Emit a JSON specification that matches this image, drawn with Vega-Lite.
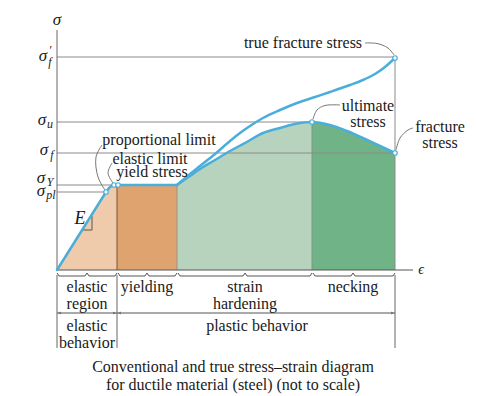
{
"$schema": "https://vega.github.io/schema/vega-lite/v6.json",
"width": 477, "height": 396,
"autosize": {"type": "fit", "contains": "padding"},
"padding": 0,
"background": "white",
"config": {"view": {"stroke": null}, "text": {"font": "Liberation Serif", "color": "#1a1a1a"}},
"datasets": {
"regions": [
{"r":"elastic","x":0,"y":0},{"r":"elastic","x":49,"y":78},{"r":"elastic","x":53,"y":83},{"r":"elastic","x":57,"y":85},{"r":"elastic","x":60,"y":85},
{"r":"yielding","x":60,"y":85},{"r":"yielding","x":120,"y":85},
{"r":"hardening","x":120,"y":85},{"r":"hardening","x":133,"y":94},{"r":"hardening","x":143,"y":101},{"r":"hardening","x":158,"y":110},{"r":"hardening","x":173,"y":119},{"r":"hardening","x":188,"y":127},{"r":"hardening","x":206,"y":137},{"r":"hardening","x":223,"y":142},{"r":"hardening","x":240,"y":146.5},{"r":"hardening","x":255,"y":148},
{"r":"necking","x":255,"y":148},{"r":"necking","x":273,"y":145},{"r":"necking","x":290,"y":139},{"r":"necking","x":308,"y":131},{"r":"necking","x":323,"y":124},{"r":"necking","x":338,"y":117}
],
"curves": [
{"p":"el","o":1,"x":0,"y":0},{"p":"el","o":2,"x":49,"y":78},
{"p":"tr","o":1,"x":49,"y":78},{"p":"tr","o":2,"x":53,"y":83},{"p":"tr","o":3,"x":57,"y":85},{"p":"tr","o":4,"x":61,"y":85},
{"p":"fl","o":1,"x":61,"y":85},{"p":"fl","o":2,"x":120,"y":85},
{"p":"cv","o":1,"x":120,"y":85},{"p":"cv","o":2,"x":133,"y":94},{"p":"cv","o":3,"x":143,"y":101},{"p":"cv","o":4,"x":158,"y":110},{"p":"cv","o":5,"x":173,"y":119},{"p":"cv","o":6,"x":188,"y":127},{"p":"cv","o":7,"x":206,"y":137},{"p":"cv","o":8,"x":223,"y":142},{"p":"cv","o":9,"x":240,"y":146.5},{"p":"cv","o":10,"x":255,"y":148},{"p":"cv","o":11,"x":273,"y":145},{"p":"cv","o":12,"x":290,"y":139},{"p":"cv","o":13,"x":308,"y":131},{"p":"cv","o":14,"x":323,"y":124},{"p":"cv","o":15,"x":338,"y":117},
{"p":"tu","o":1,"x":120,"y":85},{"p":"tu","o":2,"x":133,"y":96},{"p":"tu","o":3,"x":143,"y":104},{"p":"tu","o":4,"x":158,"y":116},{"p":"tu","o":5,"x":173,"y":129},{"p":"tu","o":6,"x":183,"y":137},{"p":"tu","o":7,"x":193,"y":144},{"p":"tu","o":8,"x":206,"y":152},{"p":"tu","o":9,"x":223,"y":160},{"p":"tu","o":10,"x":240,"y":167},{"p":"tu","o":11,"x":258,"y":173},{"p":"tu","o":12,"x":273,"y":178},{"p":"tu","o":13,"x":293,"y":185},{"p":"tu","o":14,"x":306,"y":190},{"p":"tu","o":15,"x":318,"y":196},{"p":"tu","o":16,"x":328,"y":203},{"p":"tu","o":17,"x":338,"y":212}
],
"leaders": [
{"p":"tf","o":1,"x":308,"y":227},{"p":"tf","o":2,"x":320,"y":226.5},{"p":"tf","o":3,"x":331,"y":222},{"p":"tf","o":4,"x":337,"y":215},
{"p":"ul","o":1,"x":256,"y":151},{"p":"ul","o":2,"x":260,"y":160},{"p":"ul","o":3,"x":268,"y":164.5},{"p":"ul","o":4,"x":283,"y":165},
{"p":"fr","o":1,"x":339,"y":120},{"p":"fr","o":2,"x":343,"y":132},{"p":"fr","o":3,"x":351,"y":140},{"p":"fr","o":4,"x":356,"y":142},
{"p":"pl","o":1,"x":45,"y":125},{"p":"pl","o":2,"x":39,"y":113},{"p":"pl","o":3,"x":41,"y":93},{"p":"pl","o":4,"x":48,"y":80},
{"p":"elim","o":1,"x":55,"y":107},{"p":"elim","o":2,"x":51,"y":97},{"p":"elim","o":3,"x":56,"y":87}
],
"strokes": [
{"p":"E","o":1,"x":25,"y":40},{"p":"E","o":2,"x":35,"y":40},{"p":"E","o":3,"x":35,"y":54},
{"p":"b1","o":1,"x":0,"y":-3},{"p":"b1","o":2,"x":2,"y":-6},{"p":"b1","o":3,"x":28,"y":-6},{"p":"b1","o":4,"x":30,"y":-3},{"p":"b1","o":5,"x":32,"y":-6},{"p":"b1","o":6,"x":58,"y":-6},{"p":"b1","o":7,"x":60,"y":-3},
{"p":"b2","o":1,"x":61,"y":-3},{"p":"b2","o":2,"x":63,"y":-6},{"p":"b2","o":3,"x":88,"y":-6},{"p":"b2","o":4,"x":90,"y":-3},{"p":"b2","o":5,"x":92,"y":-6},{"p":"b2","o":6,"x":118,"y":-6},{"p":"b2","o":7,"x":120,"y":-3},
{"p":"b3","o":1,"x":121,"y":-3},{"p":"b3","o":2,"x":123,"y":-6},{"p":"b3","o":3,"x":186,"y":-6},{"p":"b3","o":4,"x":188,"y":-3},{"p":"b3","o":5,"x":190,"y":-6},{"p":"b3","o":6,"x":253,"y":-6},{"p":"b3","o":7,"x":255,"y":-3},
{"p":"b4","o":1,"x":256,"y":-3},{"p":"b4","o":2,"x":258,"y":-6},{"p":"b4","o":3,"x":294,"y":-6},{"p":"b4","o":4,"x":296,"y":-3},{"p":"b4","o":5,"x":298,"y":-6},{"p":"b4","o":6,"x":336,"y":-6},{"p":"b4","o":7,"x":338,"y":-3},
{"p":"a1","o":1,"x":0,"y":-43},{"p":"a1","o":2,"x":60,"y":-43},
{"p":"a2","o":1,"x":60,"y":-43},{"p":"a2","o":2,"x":338,"y":-43}
],
"arrows": [
{"d":"l","x":2.5,"y":-43},{"d":"r","x":57.5,"y":-43},{"d":"l","x":62.5,"y":-43},{"d":"r","x":335.5,"y":-43}
],
"hrules": [
{"y":213,"x":0,"x2":338},{"y":148,"x":0,"x2":255},{"y":117,"x":0,"x2":338},{"y":85,"x":0,"x2":57},{"y":78,"x":0,"x2":49}
],
"vrules": [
{"k":"d1","x":60,"y":0,"y2":85},{"k":"d2","x":120,"y":0,"y2":85},{"k":"d3","x":255,"y":0,"y2":148},{"k":"d4","x":338,"y":0,"y2":212},
{"k":"ax","x":0,"y":0,"y2":240},
{"k":"low","x":0,"y":-5,"y2":-78},{"k":"low","x":60,"y":-5,"y2":-78},{"k":"low","x":338,"y":-5,"y2":-78}
],
"xaxis": [{"y":0,"x":0,"x2":356}],
"pts": [
{"x":49,"y":78},{"x":57,"y":85},{"x":61,"y":85},{"x":255,"y":148},{"x":338,"y":117},{"x":338,"y":212}
],
"labels": [
{"t":"true fracture stress","x":246,"y":227,"k":"ann"},
{"t":"ultimate","x":311,"y":164,"k":"ann"},
{"t":"stress","x":311,"y":148,"k":"ann"},
{"t":"fracture","x":383,"y":143,"k":"ann"},
{"t":"stress","x":383,"y":127,"k":"ann"},
{"t":"proportional limit","x":102,"y":130,"k":"ann"},
{"t":"elastic limit","x":93,"y":111,"k":"ann"},
{"t":"yield stress","x":95,"y":98,"k":"ann"},
{"t":"elastic","x":30,"y":-17,"k":"ann"},
{"t":"region","x":30,"y":-34,"k":"ann"},
{"t":"yielding","x":90,"y":-17,"k":"ann"},
{"t":"strain","x":188,"y":-17,"k":"ann"},
{"t":"hardening","x":188,"y":-34,"k":"ann"},
{"t":"necking","x":296,"y":-17,"k":"ann"},
{"t":"elastic","x":30,"y":-56,"k":"ann"},
{"t":"behavior","x":30,"y":-73,"k":"ann"},
{"t":"plastic behavior","x":200,"y":-56,"k":"ann"},
{"t":"Conventional and true stress–strain diagram","x":176,"y":-97,"k":"title"},
{"t":"for ductile material (steel) (not to scale)","x":176,"y":-115,"k":"title"},
{"t":"σ","x":0,"y":250,"k":"sym"},
{"t":"σ","x":-14,"y":214,"k":"sym"},
{"t":"σ","x":-15,"y":150,"k":"sym"},
{"t":"σ","x":-13,"y":120,"k":"sym"},
{"t":"σ","x":-16,"y":92,"k":"sym"},
{"t":"σ","x":-16,"y":79,"k":"sym"},
{"t":"E","x":23,"y":51,"k":"E"},
{"t":"ϵ","x":364,"y":0,"k":"eps"},
{"t":"′","x":-7,"y":220,"k":"sub"},
{"t":"f","x":-7,"y":208,"k":"sub"},
{"t":"u","x":-7,"y":146,"k":"sub"},
{"t":"f","x":-5,"y":115,"k":"sub"},
{"t":"Y","x":-7,"y":88,"k":"sub"},
{"t":"pl","x":-6,"y":75,"k":"sub"}
]
},
"encoding": {
"x": {"field": "x", "type": "quantitative", "scale": {"domain": [-57, 420], "nice": false, "zero": false}, "axis": null},
"y": {"field": "y", "type": "quantitative", "scale": {"domain": [-126, 270], "nice": false, "zero": false}, "axis": null}
},
"layer": [
{"data": {"name": "regions"}, "mark": {"type": "area", "interpolate": "linear"},
 "encoding": {"y2": {"datum": 0}, "color": {"field": "r", "type": "nominal", "legend": null, "scale": {"domain": ["elastic","yielding","hardening","necking"], "range": ["#EFCBAB","#DFA36F","#B8D3BD","#70B386"]}}}},
{"data": {"name": "hrules"}, "mark": {"type": "rule", "color": "#8a8a8a", "strokeWidth": 1}, "encoding": {"x2": {"field": "x2"}}},
{"data": {"name": "vrules"}, "transform": [{"filter": "datum.k == 'd1'"}], "mark": {"type": "rule", "color": "#7a5535", "strokeWidth": 1}, "encoding": {"y2": {"field": "y2"}}},
{"data": {"name": "vrules"}, "transform": [{"filter": "datum.k == 'd2'"}], "mark": {"type": "rule", "color": "#a08f80", "strokeWidth": 1}, "encoding": {"y2": {"field": "y2"}}},
{"data": {"name": "vrules"}, "transform": [{"filter": "datum.k == 'd3'"}], "mark": {"type": "rule", "color": "#7d9784", "strokeWidth": 1}, "encoding": {"y2": {"field": "y2"}}},
{"data": {"name": "vrules"}, "transform": [{"filter": "datum.k == 'd4'"}], "mark": {"type": "rule", "color": "#8a8a8a", "strokeWidth": 1}, "encoding": {"y2": {"field": "y2"}}},
{"data": {"name": "vrules"}, "transform": [{"filter": "datum.k == 'ax' || datum.k == 'low'"}], "mark": {"type": "rule", "color": "#666666", "strokeWidth": 1}, "encoding": {"y2": {"field": "y2"}}},
{"data": {"name": "xaxis"}, "mark": {"type": "rule", "color": "#555555", "strokeWidth": 1}, "encoding": {"x2": {"field": "x2"}}},
{"data": {"name": "strokes"}, "mark": {"type": "line", "color": "#555555", "strokeWidth": 1, "interpolate": "linear"},
 "encoding": {"detail": {"field": "p"}, "order": {"field": "o", "type": "quantitative"}}},
{"data": {"name": "arrows"}, "transform": [{"filter": "datum.d == 'l'"}], "mark": {"type": "point", "shape": "triangle-left", "filled": true, "color": "#555555", "size": 10}, "encoding": {}},
{"data": {"name": "arrows"}, "transform": [{"filter": "datum.d == 'r'"}], "mark": {"type": "point", "shape": "triangle-right", "filled": true, "color": "#555555", "size": 10}, "encoding": {}},
{"data": {"name": "leaders"}, "mark": {"type": "line", "color": "#777777", "strokeWidth": 1, "interpolate": "catmull-rom"},
 "encoding": {"detail": {"field": "p"}, "order": {"field": "o", "type": "quantitative"}}},
{"data": {"name": "curves"}, "mark": {"type": "line", "color": "#4AAEDB", "strokeWidth": 2.5, "interpolate": "monotone", "strokeCap": "round", "strokeJoin": "round"},
 "encoding": {"detail": {"field": "p"}, "order": {"field": "o", "type": "quantitative"}}},
{"data": {"name": "pts"}, "mark": {"type": "point", "shape": "circle", "filled": true, "fill": "white", "stroke": "#4AAEDB", "strokeWidth": 1.2, "size": 20, "opacity": 1}, "encoding": {}},
{"data": {"name": "labels"}, "transform": [{"filter": "datum.k == 'ann'"}], "mark": {"type": "text", "fontSize": 16, "align": "center", "baseline": "middle"}, "encoding": {"text": {"field": "t"}}},
{"data": {"name": "labels"}, "transform": [{"filter": "datum.k == 'title'"}], "mark": {"type": "text", "fontSize": 16, "align": "center", "baseline": "middle"}, "encoding": {"text": {"field": "t"}}},
{"data": {"name": "labels"}, "transform": [{"filter": "datum.k == 'sym'"}], "mark": {"type": "text", "fontSize": 17, "fontStyle": "italic", "align": "center", "baseline": "middle"}, "encoding": {"text": {"field": "t"}}},
{"data": {"name": "labels"}, "transform": [{"filter": "datum.k == 'E'"}], "mark": {"type": "text", "fontSize": 18, "fontStyle": "italic", "align": "center", "baseline": "middle"}, "encoding": {"text": {"field": "t"}}},
{"data": {"name": "labels"}, "transform": [{"filter": "datum.k == 'eps'"}], "mark": {"type": "text", "fontSize": 14, "fontStyle": "italic", "align": "center", "baseline": "middle"}, "encoding": {"text": {"field": "t"}}},
{"data": {"name": "labels"}, "transform": [{"filter": "datum.k == 'sub'"}], "mark": {"type": "text", "fontSize": 12, "fontStyle": "italic", "align": "center", "baseline": "middle"}, "encoding": {"text": {"field": "t"}}}
]
}
